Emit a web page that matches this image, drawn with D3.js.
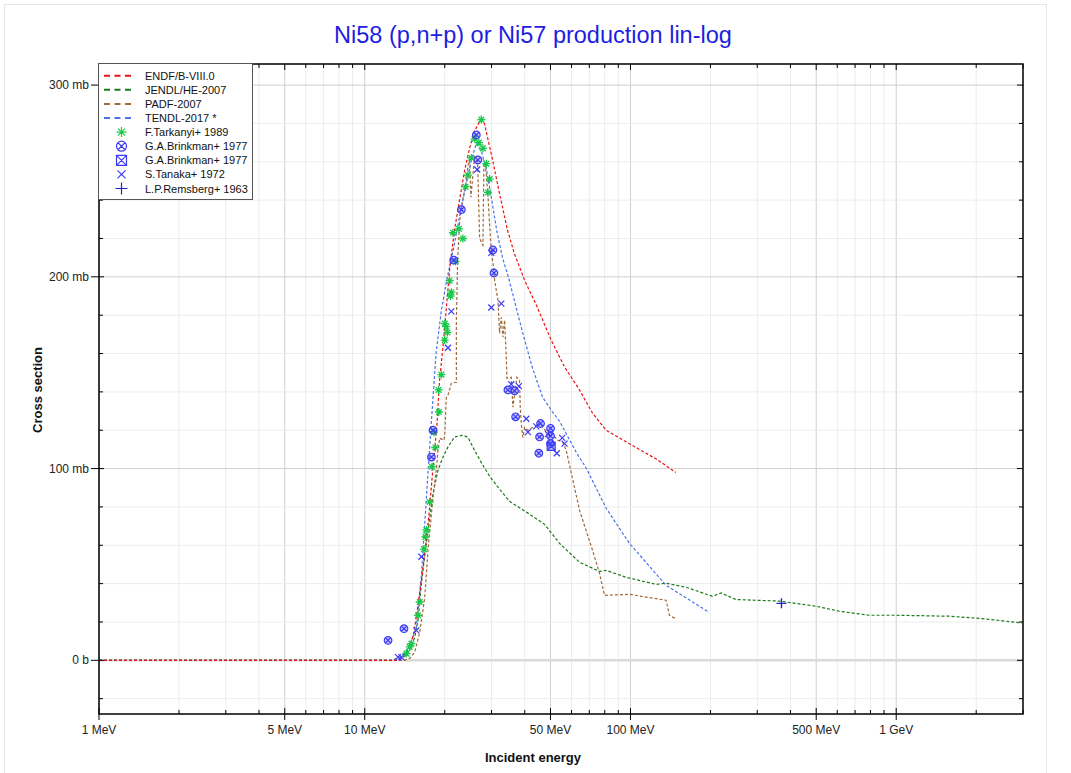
<!DOCTYPE html>
<html><head><meta charset="utf-8">
<script src="https://cdn.jsdelivr.net/npm/d3@7"></script>
<style>body{margin:0;background:#fff;font-family:"Liberation Sans",Arial,sans-serif}</style>
</head><body><svg id="c" width="1071" height="773"></svg>
<script>
// ---- Data ----
const titleText = "Ni58 (p,n+p) or Ni57 production lin-log";
const xTickValues = [1, 5, 10, 50, 100, 500, 1000];
const xTickLabels = ["1 MeV", "5 MeV", "10 MeV", "50 MeV", "100 MeV", "500 MeV", "1 GeV"];
const yTickValues = [0, 100, 200, 300];
const yTickLabels = ["0 b", "100 mb", "200 mb", "300 mb"];

const endfE = [1, 12.95, 13.5, 14.14, 14.76, 15.3, 15.8, 16.35, 16.9, 17.5, 18.0, 18.7, 19.1, 19.9, 20.9, 21.8, 22.8, 23.8, 24.8, 25.9, 27.06, 27.5, 28.2, 29.95, 32.2, 34.5, 36.6, 40, 44, 50.3, 56.5, 64.3, 71.9, 81, 99, 125, 148];
const endfS = [0, 0, 0.5, 2.5, 7, 14, 27, 42, 58, 78, 98, 123, 145, 170, 205, 225, 241, 256, 267, 276, 281, 282, 280, 264, 243, 224, 212, 198, 186, 167, 153, 141, 129, 120, 113, 105, 98];

const jendlE = [1, 13.31, 14.14, 14.76, 15.42, 15.87, 16.34, 16.91, 18.07, 18.86, 19.70, 20.57, 21.79, 23.42, 24.45, 25.91, 27.54, 29.51, 32.18, 35.08, 41.72, 47.51, 54.09, 64.33, 76.46, 81.03, 96.3, 124.9, 136.2, 162, 203.4, 219.3, 249.6, 363.3, 499, 610.6, 791.6, 997.4, 1582, 2051, 2969];
const jendlS = [0, 0, 2.1, 5.2, 12, 20.9, 40.2, 57.4, 87, 99.1, 106, 111.3, 116.5, 117.4, 116.3, 109.5, 102.8, 96, 89.2, 82.9, 76.2, 70.9, 61, 51.1, 46.4, 46.9, 43.3, 39.6, 40.2, 38.1, 33.4, 35.1, 31.7, 30.9, 28.2, 25.6, 23.5, 23.5, 23, 21.9, 19.5];

const padfE = [1, 14.14, 14.76, 15.42, 16.10, 16.81, 17.30, 18.07, 18.70, 18.86, 19.14, 19.87, 19.99, 20.28, 20.57, 21.18, 22.12, 22.12, 22.37, 22.76, 23.36, 23.97, 24.49, 24.81, 25.09, 25.47, 25.91, 26.59, 27.06, 27.47, 27.85, 28.09, 28.63, 29.08, 29.51, 29.95, 30.37, 30.82, 31.71, 32.18, 32.66, 33.11, 33.60, 34.10, 34.28, 35.60, 36.10, 37.37, 38.25, 38.48, 38.81, 39.36, 39.94, 41.12, 42.94, 44.83, 45.49, 46.81, 49.61, 50.34, 53.31, 55.66, 57.32, 58.98, 64.33, 71.96, 76.46, 79.85, 99.1, 136.2, 140.2, 148.5];
const padfS = [0, 0, 1.0, 4.2, 14.6, 32.3, 57.4, 85, 102.8, 109.5, 115.8, 114.8, 117.4, 137.2, 138.2, 144.5, 145, 177.4, 208.7, 229.5, 240, 247.8, 258.2, 261.9, 241.5, 251.4, 262.4, 259.8, 220.1, 218, 216.5, 260.8, 254.6, 242.6, 226.9, 212.8, 207.6, 198.2, 187.8, 170.6, 178.9, 168.5, 177.4, 158.1, 147.1, 147.6, 132, 147.6, 146.1, 132, 123.6, 116.3, 121.5, 120, 121.5, 122.6, 124.2, 121.5, 117.4, 118.4, 114.8, 113.7, 109.5, 101.7, 78.2, 57.4, 45.4, 33.9, 34.4, 31.3, 23.5, 21.4];

const tendlE = [1, 12.64, 13.54, 14.35, 15.02, 15.64, 16.34, 16.57, 17.33, 17.83, 18.55, 19.4, 20.4, 21.6, 23.10, 25.18, 26.30, 27.54, 28.75, 30.02, 31.4, 33.0, 34.7, 36.0, 39.26, 42.81, 46.70, 50.34, 54.09, 62.51, 68.17, 81.03, 99.1, 136.2, 197.7];
const tendlS = [0, 0, 1.6, 5.2, 10.4, 17.2, 44.3, 57.4, 99.1, 125.2, 160, 182, 199, 215, 236.3, 260.8, 269.7, 265, 255.6, 240.6, 224, 210, 200, 191.4, 171, 152.3, 137.2, 130.4, 124.7, 108.5, 100.2, 79.3, 61, 39.1, 25];

const tarkanyiE = [14.35, 14.76, 14.98, 15.87, 16.10, 16.71, 16.91, 17.06, 17.56, 17.91, 18.44, 18.22, 19.02, 18.97, 19.42, 19.99, 20.46, 20.28, 20.0, 21.0, 21.18, 20.87, 21.98, 21.48, 22.62, 23.41, 23.97, 24.45, 25.18, 25.91, 26.90, 27.85, 27.47, 28.68, 29.51, 29.08];
const tarkanyiS = [3.5, 7, 8.7, 23.5, 30.4, 58, 64.3, 68, 82.6, 101, 111, 119, 129.5, 141, 149, 167, 171, 174, 175.6, 190, 192, 198, 208, 223, 225, 220, 247, 253, 262, 272, 270, 267, 282, 259, 251, 244];

const brinkmanAE = [12.24, 14.05, 17.82, 18.07, 21.61, 23.10, 26.30, 26.66, 30.37, 30.63, 34.58, 36.64, 36.96, 45.88, 45.49, 50.03, 50.03, 50.03, 45.2];
const brinkmanAS = [10.4, 16.5, 106, 120, 208.7, 235, 274, 261, 214, 202, 141, 140.5, 127, 123.5, 116.5, 121, 117, 113, 108];

const brinkmanBE = [50.3];
const brinkmanBS = [111.6];

const tanakaE = [13.35, 13.74, 15.64, 16.34, 20.57, 21.18, 26.50, 29.95, 29.95, 32.66, 35.60, 38.02, 40.55, 41.12, 44.21, 48.88, 52.83, 55.36, 56.48];
const tanakaS = [1.7, 1.7, 15.6, 54, 163, 182, 256, 212.5, 184, 186, 144, 143, 126, 119, 122, 118, 108, 116, 113];

const remsbergE = [370];
const remsbergS = [29.7];

// ---- Layout ----
const svg = d3.select("#c");
const L = 99, R = 1023, T = 64, B = 714;
const x = d3.scaleLog().domain([1, 3000]).range([L, R]);
const y = d3.scaleLinear().domain([-28, 311]).range([B, T]);

svg.append("rect").attr("x", 4.5).attr("y", 4.5).attr("width", 1042).attr("height", 800)
  .attr("fill", "#fff").attr("stroke", "#e6e6e6");

// grid
const xMinor = [];
for (let k = 0; k <= 3; k++) for (let m = 1; m <= 9; m++) { const v = m * Math.pow(10, k); if (v <= 3000) xMinor.push(v); }
const g = svg.append("g");
xMinor.forEach(v => {
  const major = xTickValues.includes(v);
  g.append("line").attr("x1", x(v)).attr("x2", x(v)).attr("y1", T).attr("y2", B)
    .attr("stroke", major ? "#cfcfcf" : "#ececec").attr("stroke-width", 1);
});
for (let v = -20; v <= 300; v += 20) {
  const major = v % 100 === 0;
  g.append("line").attr("x1", L).attr("x2", R).attr("y1", y(v)).attr("y2", y(v))
    .attr("stroke", v === 0 ? "#dadada" : (major ? "#cfcfcf" : "#ececec"))
    .attr("stroke-width", v === 0 ? 2.5 : 1);
}

// curves
svg.append("clipPath").attr("id", "clip").append("rect").attr("x", L).attr("y", T).attr("width", R - L).attr("height", B - T);
const line = d3.line().x(d => x(d[0])).y(d => y(d[1]));
const curves = [
  {E: jendlE, S: jendlS, c: "#1a7a1a"},
  {E: padfE, S: padfS, c: "#a0693a"},
  {E: tendlE, S: tendlS, c: "#4a74e8"},
  {E: endfE, S: endfS, c: "#ee1111"}
];
const cg = svg.append("g").attr("clip-path", "url(#clip)");
curves.forEach(cv => {
  cg.append("path").datum(cv.E.map((e, i) => [e, cv.S[i]])).attr("d", line)
    .attr("fill", "none").attr("stroke", cv.c).attr("stroke-width", 1.2).attr("stroke-dasharray", "3,2");
});

// markers
function sym(type, r) {
  const d = r * 0.7071;
  if (type === "ast") return `M0,${-r}L0,${r}M${-r},0L${r},0M${-d},${-d}L${d},${d}M${-d},${d}L${d},${-d}`;
  if (type === "circx") return `M${r},0A${r},${r} 0 1,1 ${-r},0A${r},${r} 0 1,1 ${r},0ZM${-d},${-d}L${d},${d}M${-d},${d}L${d},${-d}`;
  if (type === "sqx") return `M${-r},${-r}H${r}V${r}H${-r}ZM${-r},${-r}L${r},${r}M${-r},${r}L${r},${-r}`;
  if (type === "times") return `M${-r},${-r}L${r},${r}M${-r},${r}L${r},${-r}`;
  if (type === "plus") return `M0,${-r}L0,${r}M${-r},0L${r},0`;
}
const pts = [
  {E: tarkanyiE, S: tarkanyiS, t: "ast", r: 4, c: "#19c94a", f: "none", w: 1.3},
  {E: brinkmanAE, S: brinkmanAS, t: "circx", r: 3.8, c: "#3a3af5", f: "rgba(90,90,255,0.35)", w: 1.2},
  {E: brinkmanBE, S: brinkmanBS, t: "sqx", r: 4, c: "#3a3af5", f: "rgba(90,90,255,0.35)", w: 1.2},
  {E: tanakaE, S: tanakaS, t: "times", r: 3, c: "#3a3af5", f: "none", w: 1.2},
  {E: remsbergE, S: remsbergS, t: "plus", r: 5, c: "#2424c8", f: "none", w: 1.4}
];
const pg = svg.append("g").attr("clip-path", "url(#clip)");
pts.forEach(p => {
  p.E.forEach((e, i) => {
    pg.append("path").attr("d", sym(p.t, p.r)).attr("transform", `translate(${x(e)},${y(p.S[i])})`)
      .attr("fill", p.f).attr("stroke", p.c).attr("stroke-width", p.w);
  });
});

// frame
svg.append("rect").attr("x", L).attr("y", T).attr("width", R - L).attr("height", B - T)
  .attr("fill", "none").attr("stroke", "#000").attr("stroke-width", 1.5);

// axes ticks
const ax = svg.append("g").attr("stroke", "#000").attr("stroke-width", 1);
xMinor.forEach(v => {
  const major = xTickValues.includes(v);
  ax.append("line").attr("x1", x(v)).attr("x2", x(v)).attr("y1", major ? B - 6 : B - 4).attr("y2", major ? B + 6 : B);
  ax.append("line").attr("x1", x(v)).attr("x2", x(v)).attr("y1", T).attr("y2", major ? T + 6 : T + 4);
});
for (let v = -20; v <= 300; v += 20) {
  const major = v % 100 === 0;
  ax.append("line").attr("x1", major ? L - 8 : L).attr("x2", major ? L + 5 : L + 4).attr("y1", y(v)).attr("y2", y(v));
  ax.append("line").attr("x1", R - (major ? 6 : 4)).attr("x2", R).attr("y1", y(v)).attr("y2", y(v));
}
const tx = svg.append("g").attr("font-size", 12).attr("fill", "#222");
xTickValues.forEach((v, i) => {
  tx.append("text").attr("x", x(v)).attr("y", 734).attr("text-anchor", "middle").text(xTickLabels[i]);
});
yTickValues.forEach((v, i) => {
  tx.append("text").attr("x", L - 10).attr("y", y(v) + 4).attr("text-anchor", "end").text(yTickLabels[i]);
});

// titles
svg.append("text").attr("x", 533).attr("y", 43).attr("text-anchor", "middle").attr("font-size", 23.5)
  .attr("fill", "#1e1ee0").text(titleText);
svg.append("text").attr("x", 533).attr("y", 762).attr("text-anchor", "middle").attr("font-size", 13)
  .attr("font-weight", "bold").attr("fill", "#111").text("Incident energy");
svg.append("text").attr("transform", "translate(42,390) rotate(-90)").attr("text-anchor", "middle")
  .attr("font-size", 13).attr("font-weight", "bold").attr("fill", "#111").text("Cross section");

// legend
const legendNames = ["ENDF/B-VIII.0", "JENDL/HE-2007", "PADF-2007", "TENDL-2017 *", "F.Tarkanyi+ 1989", "G.A.Brinkman+ 1977", "G.A.Brinkman+ 1977", "S.Tanaka+ 1972", "L.P.Remsberg+ 1963"];
const lg = svg.append("g");
lg.append("rect").attr("x", 98.5).attr("y", 63.5).attr("width", 154).attr("height", 136)
  .attr("fill", "#fff").attr("stroke", "#555").attr("stroke-width", 1);
const legendLineColors = ["#ee1111", "#1a7a1a", "#a0693a", "#4a74e8"];
legendNames.forEach((n, i) => {
  const ly = 75.7 + i * 14.1;
  if (i < 4) {
    lg.append("line").attr("x1", 104).attr("x2", 133).attr("y1", ly).attr("y2", ly)
      .attr("stroke", legendLineColors[i]).attr("stroke-width", 2).attr("stroke-dasharray", "6,4.5");
  } else {
    const p = pts[i - 4];
    lg.append("path").attr("d", sym(p.t, p.t === "times" ? 4 : (p.t === "plus" ? 6 : 5))).attr("transform", `translate(121.5,${ly})`)
      .attr("fill", "none").attr("stroke", p.c).attr("stroke-width", 1.2);
  }
  lg.append("text").attr("x", 145).attr("y", ly + 4).attr("font-size", 11).attr("fill", "#111").text(n);
});
</script></body></html>
